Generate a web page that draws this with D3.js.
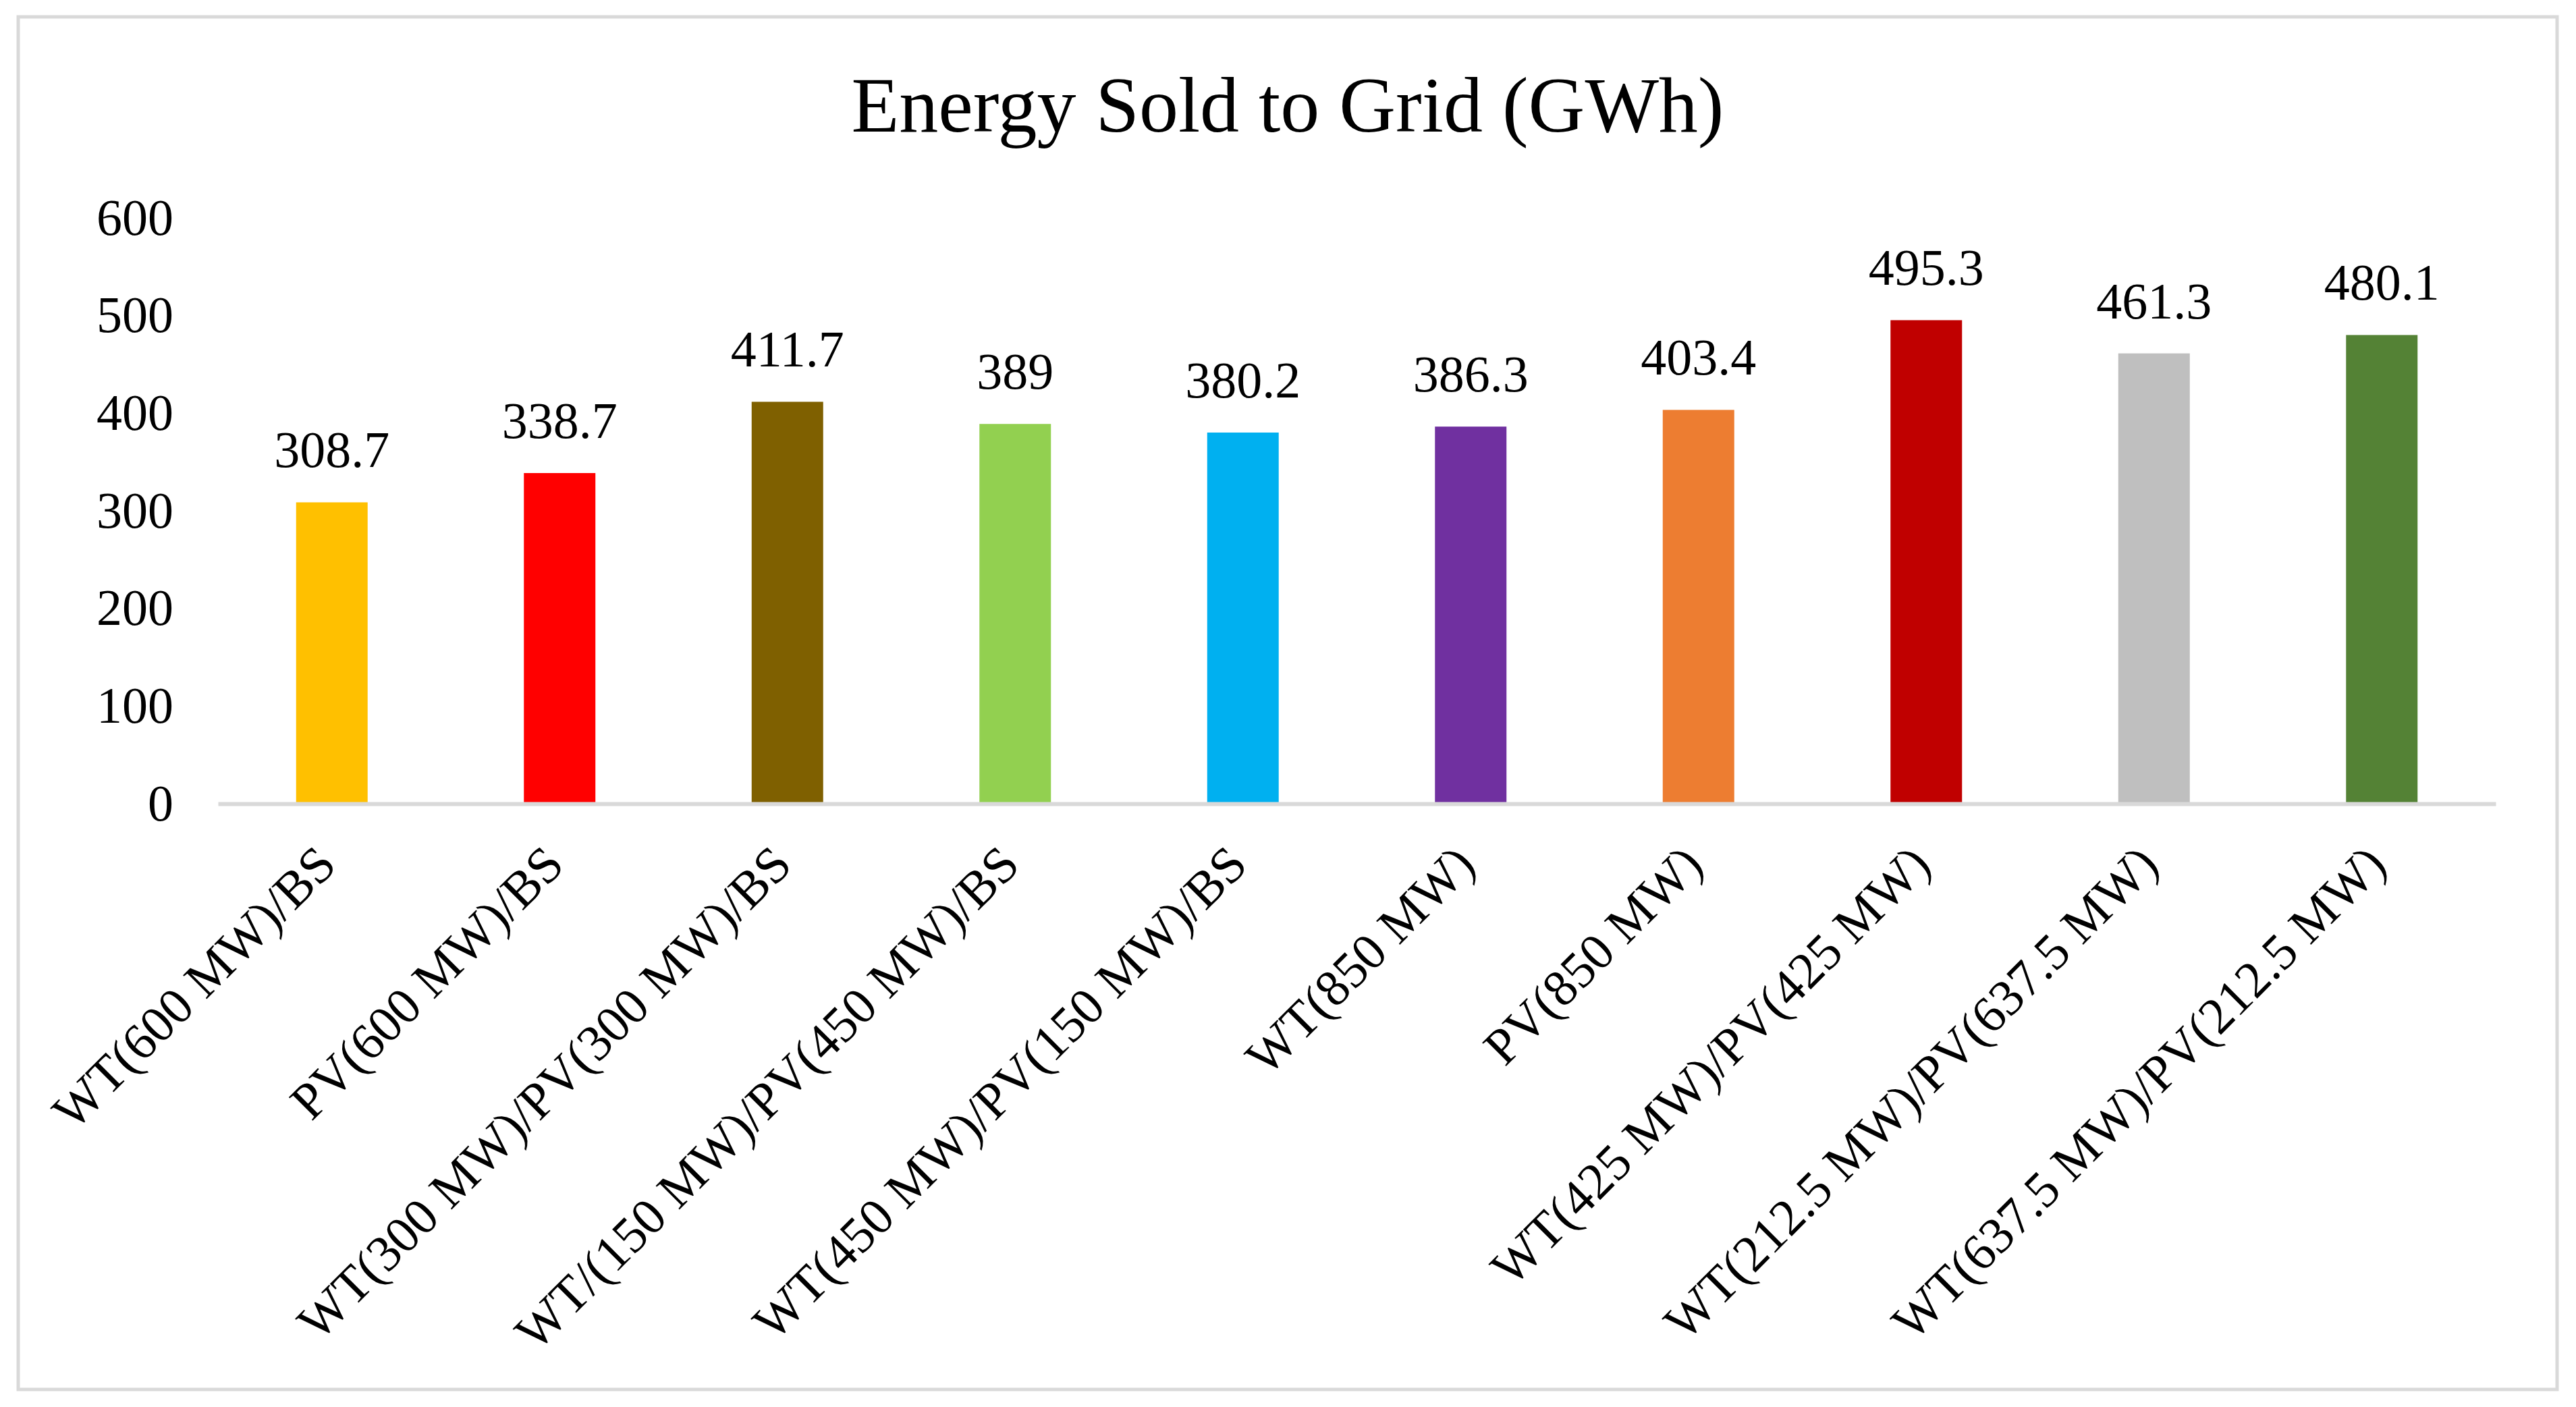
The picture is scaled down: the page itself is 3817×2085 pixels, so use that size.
<!DOCTYPE html>
<html>
<head>
<meta charset="utf-8">
<script src="https://cdn.jsdelivr.net/npm/d3@7"></script>
<style>
  html, body { margin: 0; padding: 0; background: #fff; }
  svg text { font-family: "Liberation Serif", "Times New Roman", serif; fill: #000; }
</style>
</head>
<body>
<svg id="chart" width="3817" height="2085"></svg>
<script>
(function() {
    // chart data
    var categories = [
        "WT(600 MW)/BS",
        "PV(600 MW)/BS",
        "WT(300 MW)/PV(300 MW)/BS",
        "WT/(150 MW)/PV(450 MW)/BS",
        "WT(450 MW)/PV(150 MW)/BS",
        "WT(850 MW)",
        "PV(850 MW)",
        "WT(425 MW)/PV(425 MW)",
        "WT(212.5 MW)/PV(637.5 MW)",
        "WT(637.5 MW)/PV(212.5 MW)"
    ];
    var energySold = [308.7, 338.7, 411.7, 389, 380.2, 386.3, 403.4, 495.3, 461.3, 480.1];
    var barColors = ["#FFC000", "#FF0000", "#7F6000", "#92D050", "#00B0F0",
                     "#7030A0", "#ED7D31", "#C00000", "#BFBFBF", "#548235"];
    var yTicks = [0, 100, 200, 300, 400, 500, 600];

    var data = categories.map(function(name, i) {
        return { name: name, value: energySold[i], color: barColors[i] };
    });

    var width = 3817, height = 2085;
    var left = 323, right = 3698, top = 323, bottom = 1191;

    var svg = d3.select("#chart");

    // outer frame
    svg.append("rect")
        .attr("x", 27).attr("y", 25)
        .attr("width", 3789 - 27).attr("height", 2059 - 25)
        .attr("fill", "#fff")
        .attr("stroke", "#d9d9d9")
        .attr("stroke-width", 5);

    var x = d3.scaleBand()
        .domain(categories)
        .range([left, right])
        .paddingInner(0.686)
        .paddingOuter(0.343);

    var y = d3.scaleLinear()
        .domain([0, 600])
        .range([bottom, top]);

    // title
    svg.append("text")
        .attr("x", 1908)
        .attr("y", 195)
        .attr("text-anchor", "middle")
        .style("font-size", "116px")
        .text("Energy Sold to Grid (GWh)");

    // y axis: labels only
    svg.append("g")
        .attr("transform", "translate(" + (left - 66) + ",0)")
        .call(d3.axisLeft(y).tickValues(yTicks).tickSize(0).tickPadding(0))
        .call(function(g) { g.select(".domain").remove(); })
        .call(function(g) {
            g.selectAll("text")
                .style("font-family", "'Liberation Serif', 'Times New Roman', serif")
                .style("font-size", "76px")
                .attr("fill", "#000");
        });

    // bars
    svg.append("g")
        .selectAll("rect")
        .data(data)
        .join("rect")
            .attr("x", function(d) { return x(d.name); })
            .attr("y", function(d) { return y(d.value); })
            .attr("width", x.bandwidth())
            .attr("height", function(d) { return y(0) - y(d.value); })
            .attr("fill", function(d) { return d.color; });

    // value labels
    svg.append("g")
        .selectAll("text")
        .data(data)
        .join("text")
            .attr("x", function(d) { return x(d.name) + x.bandwidth() / 2; })
            .attr("y", function(d) { return y(d.value) - 52; })
            .attr("text-anchor", "middle")
            .style("font-size", "76px")
            .text(function(d) { return d.value; });

    // x axis line + rotated category labels
    svg.append("g")
        .attr("transform", "translate(0," + bottom + ")")
        .call(d3.axisBottom(x).tickSize(0).tickSizeOuter(0))
        .call(function(g) {
            g.select(".domain")
                .attr("stroke", "#d9d9d9")
                .attr("stroke-width", 6);
            g.selectAll(".tick text")
                .style("font-family", "'Liberation Serif', 'Times New Roman', serif")
                .style("font-size", "76px")
                .attr("fill", "#000")
                .attr("text-anchor", "end")
                .attr("dy", null)
                .attr("y", 0)
                .attr("transform", "translate(10,94) rotate(-45)");
        });
})();
</script>
</body>
</html>
